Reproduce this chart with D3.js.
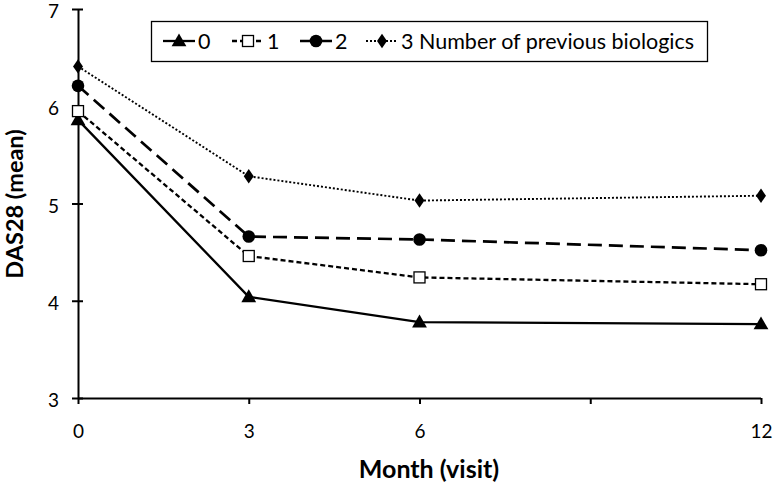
<!DOCTYPE html>
<html><head><meta charset="utf-8">
<script src="https://cdn.jsdelivr.net/npm/d3@7"></script>
<style>body{margin:0;background:#fff}</style>
</head><body>
<svg id="c" width="774" height="484"></svg>
<script>
const months = [0, 3, 6, 12];
const xTicks = [0, 3, 6, 9, 12];
const xTickLabels = ["0", "3", "6", "", "12"];
const yTicks = [3, 4, 5, 6, 7];
const seriesNames = ["0", "1", "2", "3 Number of previous biologics"];
const s0 = [5.86, 4.04, 3.78, 3.76];
const s1 = [5.95, 4.46, 4.24, 4.17];
const s2 = [6.21, 4.66, 4.63, 4.52];
const s3 = [6.41, 5.28, 5.03, 5.08];
const xTitle = "Month (visit)";
const yTitle = "DAS28 (mean)";

const F = "Lato, 'Open Sans', sans-serif";
const svg = d3.select("#c");
const x = d3.scaleLinear().domain([0, 12]).range([78, 761]);
const y = d3.scaleLinear().domain([3, 7]).range([398, 9]);

const styles = [
  {dash: null, w: 2.3, sym: "tri"},
  {dash: "5,3", w: 2.3, sym: "sq"},
  {dash: "14,7", w: 2.7, sym: "circ"},
  {dash: "2,2", w: 1.9, sym: "dia"}
];
const data = [s0, s1, s2, s3];

// axes
const xa = svg.append("g").attr("transform", "translate(0,398)")
  .call(d3.axisBottom(x).tickValues(xTicks).tickFormat((d,i)=>xTickLabels[i]).tickSize(6).tickPadding(21));
const ya = svg.append("g").attr("transform", "translate(78,0)")
  .call(d3.axisLeft(y).tickValues(yTicks).tickFormat(d3.format("d")).tickSize(5).tickPadding(14));
[xa, ya].forEach(a => {
  a.select(".domain").attr("stroke", "#000").attr("stroke-width", 2);
  a.selectAll(".tick line").attr("stroke", "#000").attr("stroke-width", 2);
  a.selectAll("text").attr("font-family", F).attr("font-size", 19).attr("fill", "#000");
});
ya.selectAll(".tick line").attr("x2", 5).attr("x1", -6);
ya.selectAll(".tick text").attr("dy", "0.45em");
ya.select(".domain").attr("d", "M0.5,398V9");
xa.select(".domain").attr("d", "M78,0.5H761");

svg.append("text").attr("x", 429).attr("y", 478).attr("text-anchor", "middle")
  .attr("font-family", F).attr("font-weight", "bold").attr("font-size", 25).text(xTitle);
svg.append("text").attr("transform", "translate(23,204) rotate(-90)").attr("text-anchor", "middle")
  .attr("font-family", F).attr("font-weight", "bold").attr("font-size", 23.5).text(yTitle);

function marker(g, sym, cx, cy) {
  if (sym === "tri") g.append("path").attr("d", d3.symbol(d3.symbolTriangle, 95)()).attr("transform", `translate(${cx},${cy+1})`).attr("fill", "#000");
  if (sym === "circ") g.append("circle").attr("cx", cx).attr("cy", cy).attr("r", 6.3).attr("fill", "#000");
  if (sym === "sq") g.append("rect").attr("x", cx-5.5).attr("y", cy-5.5).attr("width", 11).attr("height", 11).attr("fill", "#fff").attr("stroke", "#000").attr("stroke-width", 1.3);
  if (sym === "dia") g.append("path").attr("d", d3.symbol(d3.symbolDiamond, 60)()).attr("transform", `translate(${cx},${cy}) scale(1.2,1)`).attr("fill", "#000");
}

const line = d3.line().x((d,i)=>x(months[i])).y(d=>y(d));
data.forEach((vals, k) => {
  const st = styles[k];
  svg.append("path").datum(vals).attr("d", line).attr("fill", "none").attr("stroke", "#000")
    .attr("stroke-width", st.w).attr("stroke-dasharray", st.dash);
});
data.forEach((vals, k) => {
  const g = svg.append("g");
  vals.forEach((v, i) => marker(g, styles[k].sym, x(months[i]), y(v)));
});

// legend
const lg = svg.append("g");
lg.append("rect").attr("x", 151.5).attr("y", 21.5).attr("width", 556).attr("height", 40).attr("fill", "#fff").attr("stroke", "#000").attr("stroke-width", 1.3);
const lx = [163, 232, 300, 366];
seriesNames.forEach((n, k) => {
  const st = styles[k];
  lg.append("line").attr("x1", lx[k]).attr("x2", lx[k]+32).attr("y1", 41).attr("y2", 41)
    .attr("stroke", "#000").attr("stroke-width", st.w).attr("stroke-dasharray", st.dash);
  marker(lg, st.sym, lx[k]+16, 41);
  lg.append("text").attr("x", lx[k]+35).attr("y", 48.5).attr("font-family", F).attr("font-size", 21.5).text(n);
});
</script>
</body></html>
